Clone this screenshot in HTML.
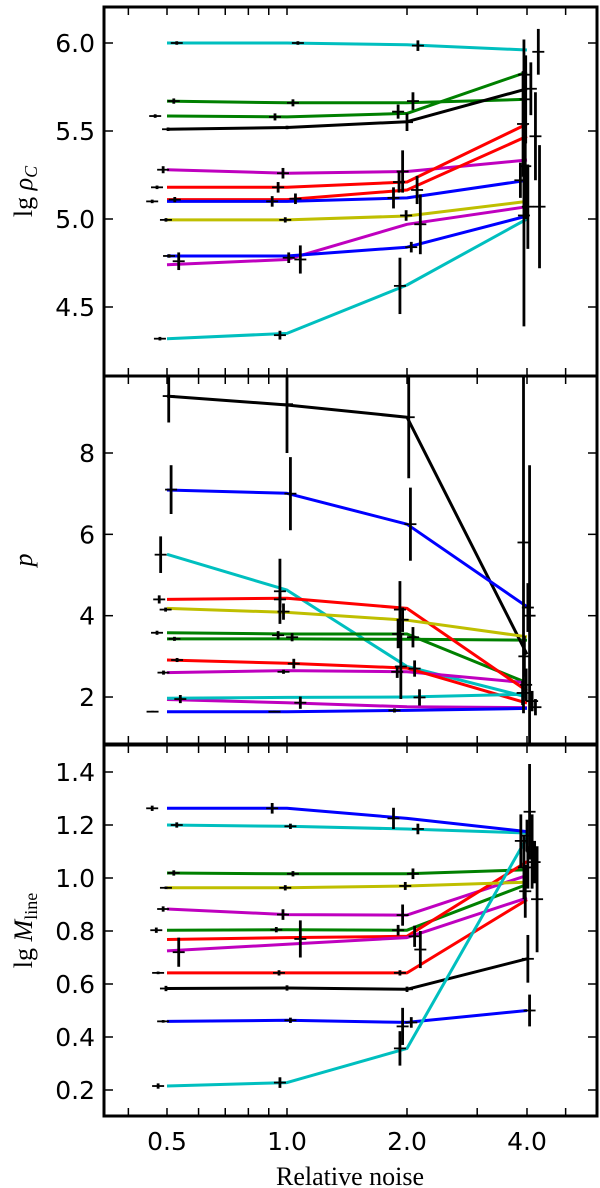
<!DOCTYPE html>
<html><head><meta charset="utf-8"><style>
html,body{margin:0;padding:0;background:#fff;}
svg{display:block;}
</style></head><body>
<svg id="chart" width="600" height="1188" viewBox="0 0 600 1188" xmlns="http://www.w3.org/2000/svg"></svg>
<script>
// ---------- data ----------
const noiseLevels = [0.5, 1.0, 2.0, 4.0];
const xTickLabels = ["0.5", "1.0", "2.0", "4.0"];
const xMinorTicks = [0.4, 0.6, 0.7, 0.8, 0.9, 3, 5];
const seriesColors = ["#00bfbf","#008000","#008000","#000000","#bf00bf","#ff0000","#ff0000","#0000ff","#bfbf00","#bf00bf","#0000ff","#00bfbf"];

// panel 1: lg rho_C
const rhoSeries = [
 [6.0, 6.0, 5.99, 5.96],
 [5.67, 5.66, 5.66, 5.68],
 [5.585, 5.58, 5.60, 5.835],
 [5.51, 5.52, 5.553, 5.74],
 [5.28, 5.26, 5.27, 5.335],
 [5.18, 5.18, 5.21, 5.54],
 [5.11, 5.11, 5.165, 5.47],
 [5.10, 5.10, 5.12, 5.22],
 [4.995, 4.995, 5.017, 5.10],
 [4.74, 4.77, 4.97, 5.07],
 [4.79, 4.79, 4.84, 5.017],
 [4.32, 4.35, 4.625, 5.0]
];
const rhoTicks = [4.5, 5.0, 5.5, 6.0];
const rhoTickLabels = ["4.5","5.0","5.5","6.0"];
// error bars: [noise, value, yerr]
const rhoErr = [
 [0.529,6.0,0.01],[0.52,5.67,0.015],[0.467,5.585,0.01],[0.503,5.51,0.01],[0.489,5.28,0.02],[0.472,5.18,0.01],
 [0.523,5.11,0.015],[0.459,5.10,0.01],[0.497,4.995,0.01],[0.535,4.76,0.05],[0.506,4.79,0.01],[0.48,4.32,0.01],
 [1.065,6.0,0.01],[1.035,5.66,0.02],[0.933,5.58,0.02],[1.0,5.52,0.01],[0.977,5.26,0.03],[0.95,5.18,0.03],
 [1.05,5.115,0.03],[0.918,5.10,0.03],[0.99,4.995,0.015],[1.08,4.77,0.08],[1.01,4.78,0.03],[0.96,4.34,0.025],
 [2.13,5.985,0.03],[2.07,5.67,0.05],[1.90,5.61,0.04],[2.0,5.55,0.05],[1.95,5.27,0.12],[1.91,5.21,0.06],
 [2.12,5.165,0.08],[1.85,5.12,0.06],[1.99,5.02,0.03],[2.16,4.97,0.17],[2.05,4.84,0.03],[1.92,4.62,0.16],
 [4.27,5.95,0.13],[4.09,5.74,0.15],[3.97,5.68,0.25],[3.93,5.82,0.2],[4.2,5.47,0.25],[3.91,5.54,0.3],
 [3.85,5.22,0.1],[4.02,5.07,0.24],[4.3,5.07,0.35],[3.93,5.02,0.63],[3.96,5.3,0.3]
];

// panel 2: p
const pSeries = [
 [5.51, 4.63, 2.75, 2.0],
 [3.58, 3.55, 3.55, 2.35],
 [3.43, 3.43, 3.42, 3.40],
 [9.40, 9.18, 8.88, 3.05],
 [2.60, 2.65, 2.62, 2.35],
 [4.40, 4.43, 4.18, 2.15],
 [2.91, 2.83, 2.71, 1.85],
 [7.09, 7.01, 6.25, 4.22],
 [4.18, 4.08, 3.89, 3.48],
 [1.94, 1.86, 1.76, 1.74],
 [1.64, 1.64, 1.67, 1.72],
 [1.97, 1.99, 2.0, 2.07]
];
const pTicks = [2, 4, 6, 8];
const pTickLabels = ["2","4","6","8"];
const pErr = [
 [0.505,9.4,0.65],[0.512,7.1,0.6],[0.482,5.5,0.45],[0.478,4.4,0.1],[0.496,4.15,0.05],[0.472,3.58,0.05],
 [0.522,3.43,0.05],[0.53,2.91,0.05],[0.49,2.6,0.05],[0.54,1.95,0.1],[0.46,1.64,0.02],
 [1.0,9.2,1.2],[1.02,7.0,0.9],[0.96,4.6,0.8],[0.96,4.4,0.2],[0.98,4.1,0.2],[0.95,3.52,0.1],
 [1.03,3.47,0.1],[1.04,2.82,0.12],[0.98,2.62,0.05],[1.08,1.86,0.15],[0.93,1.64,0.02],
 [2.02,8.88,1.5],[2.04,6.25,0.9],[1.93,2.75,0.8],[1.92,4.15,0.7],[1.95,3.9,0.3],[1.90,3.55,0.35],
 [2.07,3.47,0.25],[2.09,2.7,0.2],[1.89,2.62,0.15],[2.15,1.99,0.2],[1.86,1.67,0.05],
 [3.92,5.8,4.2],[3.94,3.0,0.5],[4.02,4.2,0.6],[4.06,4.0,3.7],[3.98,2.3,0.4],[4.12,1.9,0.25],[4.2,1.75,0.2],[3.9,2.1,0.3]
];

// panel 3: lg M_line
const mSeries = [
 [1.20, 1.195, 1.185, 1.17],
 [1.019, 1.016, 1.016, 1.031],
 [0.803, 0.805, 0.803, 0.976],
 [0.583, 0.585, 0.58, 0.695],
 [0.883, 0.862, 0.86, 1.01],
 [0.768, 0.775, 0.78, 1.062],
 [0.642, 0.642, 0.642, 0.918],
 [1.263, 1.263, 1.225, 1.175],
 [0.963, 0.963, 0.97, 0.984],
 [0.725, 0.75, 0.775, 0.925],
 [0.459, 0.463, 0.455, 0.50],
 [0.215, 0.228, 0.357, 1.153]
];
const mTicks = [0.2, 0.4, 0.6, 0.8, 1.0, 1.2, 1.4];
const mTickLabels = ["0.2","0.4","0.6","0.8","1.0","1.2","1.4"];
const mErr = [
 [0.459,1.263,0.01],[0.529,1.2,0.01],[0.52,1.019,0.01],[0.497,0.963,0.005],[0.489,0.883,0.01],[0.47,0.803,0.01],
 [0.535,0.72,0.055],[0.475,0.642,0.005],[0.497,0.583,0.01],[0.489,0.459,0.005],[0.475,0.215,0.01],
 [0.918,1.263,0.02],[1.02,1.195,0.01],[1.035,1.016,0.01],[0.99,0.963,0.01],[0.977,0.862,0.02],[0.94,0.805,0.01],
 [1.08,0.77,0.07],[0.955,0.642,0.01],[1.0,0.585,0.01],[1.02,0.463,0.01],[0.96,0.228,0.02],
 [1.85,1.225,0.04],[2.13,1.185,0.02],[2.07,1.016,0.02],[1.98,0.97,0.015],[1.95,0.86,0.04],[1.90,0.803,0.02],
 [2.16,0.73,0.07],[2.09,0.78,0.04],[1.92,0.642,0.01],[2.0,0.58,0.01],[1.95,0.44,0.07],[2.05,0.455,0.02],[1.92,0.357,0.065],
 [4.0,1.16,0.06],[4.06,1.25,0.18],[3.86,1.14,0.1],[3.93,1.04,0.12],[4.02,1.04,0.08],[4.18,1.06,0.08],
 [4.24,0.92,0.2],[4.02,0.695,0.09],[4.06,0.50,0.06],[3.96,0.95,0.1],[4.12,1.1,0.14]
];

// ---------- layout / axes ----------
const svg = document.getElementById('chart');
const NS = 'http://www.w3.org/2000/svg';
const X0 = 104, X1 = 597;
const xScale = v => 167 + 120 * Math.log2(v / 0.5);
function mk(tag, attrs, parent){const e=document.createElementNS(NS,tag);for(const k in attrs)e.setAttribute(k,attrs[k]);(parent||svg).appendChild(e);return e;}

const panels = [
 {name:'rho', top:7, bottom:376, vTop:6.0, yTop:43, pxPerUnit:176, series:rhoSeries, err:rhoErr, ticks:rhoTicks, labels:rhoTickLabels, label:'rho'},
 {name:'p', top:376, bottom:744, vTop:8, yTop:453, pxPerUnit:40.67, series:pSeries, err:pErr, ticks:pTicks, labels:pTickLabels, label:'p'},
 {name:'mline', top:745, bottom:1116, vTop:1.4, yTop:772, pxPerUnit:265, series:mSeries, err:mErr, ticks:mTicks, labels:mTickLabels, label:'m'}
];

panels.forEach((P, pi) => {
  const yScale = v => P.yTop + (P.vTop - v) * P.pxPerUnit;
  const g = mk('g', {});
  
  
  mk('clipPath', {id:'clip'+pi}, g).appendChild((()=>{const r=document.createElementNS(NS,'rect');r.setAttribute('x',X0);r.setAttribute('y',P.top);r.setAttribute('width',X1-X0);r.setAttribute('height',P.bottom-P.top);return r;})());
  const plot = mk('g', {'clip-path':'url(#clip'+pi+')'}, g);
  
  

  P.series.forEach((vals, si) => {
    const pts = vals.map((v,i)=> xScale(noiseLevels[i]).toFixed(1)+','+yScale(v).toFixed(1)).join(' ');
    const line = mk('polyline', {points:pts, fill:'none', stroke:seriesColors[si], 'stroke-width':3, 'stroke-linejoin':'round'}, plot);
    
    
  });
  P.err.forEach((e, ei) => {
    const x = xScale(e[0]), y = yScale(e[1]);
    const eg = mk('g', {stroke:'#000'}, plot);
    
    
    mk('line', {x1:x, x2:x, y1:yScale(e[1]+e[2]), y2:yScale(e[1]-e[2]), 'stroke-width':2.8}, eg);
    mk('line', {x1:x-6, x2:x+6, y1:y, y2:y, 'stroke-width':1.8}, eg);
  });

  P.ticks.forEach((t, ti) => {
    const y = yScale(t);
    const tl = mk('line', {x1:X0, x2:X0+9, y1:y, y2:y, stroke:'#000', 'stroke-width':1.5}, g);
    
    
    mk('line', {x1:X1-9, x2:X1, y1:y, y2:y, stroke:'#000', 'stroke-width':1.5}, g);
    const tx = mk('text', {x:95, y:y+9, 'text-anchor':'end', 'font-family':'DejaVu Sans, Liberation Sans, sans-serif', 'font-size':25}, g);
    
    
    tx.textContent = P.labels[ti];
  });
  noiseLevels.concat(xMinorTicks).forEach(v => {
    const x = xScale(v);
    const a = mk('line', {x1:x, x2:x, y1:P.bottom, y2:P.bottom-8, stroke:'#000', 'stroke-width':1.5}, g);
    
    
    mk('line', {x1:x, x2:x, y1:P.top, y2:P.top+8, stroke:'#000', 'stroke-width':1.5}, g);
  });
  const fr = mk('rect', {x:X0, y:P.top, width:X1-X0, height:P.bottom-P.top, fill:'none', stroke:'#000', 'stroke-width':3}, g);
  
  
  const cy = (P.top + P.bottom) / 2;
  const yt = mk('text', {x:0, y:0, transform:'translate(32,'+cy+') rotate(-90)', 'text-anchor':'middle', 'font-family':'Liberation Serif, serif', 'font-size':26}, g);
  
  
  if (P.label === 'rho') {
    yt.innerHTML = 'lg <tspan font-style="italic">ρ</tspan><tspan font-size="18" font-style="italic" dy="5">C</tspan>';
  } else if (P.label === 'p') {
    yt.innerHTML = '<tspan font-style="italic">p</tspan>';
  } else {
    yt.innerHTML = 'lg <tspan font-style="italic">M</tspan><tspan font-size="18" dy="5">line</tspan>';
  }
});

noiseLevels.forEach((v, i) => {
  const t = mk('text', {x:xScale(v), y:1150, 'text-anchor':'middle', 'font-family':'DejaVu Sans, Liberation Sans, sans-serif', 'font-size':25});
  
  
  t.textContent = xTickLabels[i];
});
const xt = mk('text', {x:350, y:1185, 'text-anchor':'middle', 'font-family':'Liberation Serif, serif', 'font-size':26});


xt.textContent = 'Relative noise';
</script>
</body></html>
